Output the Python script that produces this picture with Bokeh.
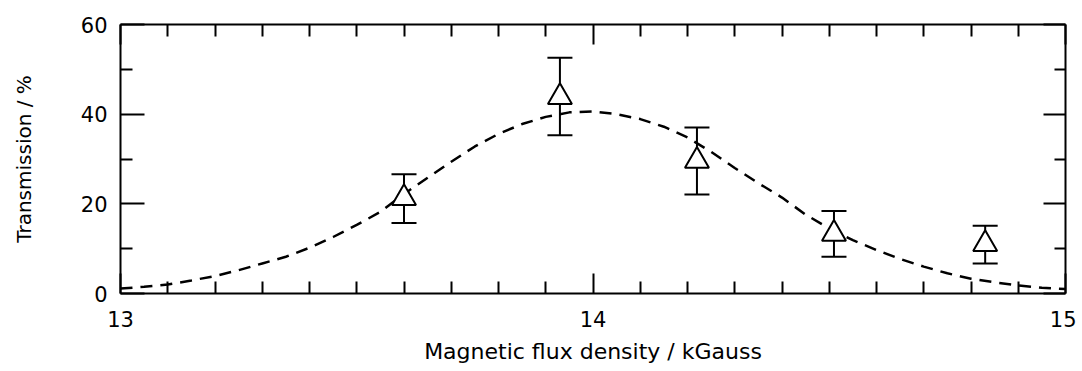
from bokeh.plotting import figure
from bokeh.models import Range1d, LinearAxis, FixedTicker, Whisker, TeeHead, ColumnDataSource
from bokeh.embed import file_html
from bokeh.resources import INLINE

# Measured data points (triangles with error bars)
field_kg = [13.60, 13.93, 14.22, 14.51, 14.83]
transmission = [21.3, 43.8, 29.6, 13.3, 11.0]
err_upper = [26.6, 52.6, 37.0, 18.4, 15.1]
err_lower = [15.7, 35.3, 22.1, 8.2, 6.7]

# Fitted curve (dashed)
curve_x = [13.00, 13.05, 13.10, 13.15, 13.20, 13.25, 13.30, 13.35, 13.40, 13.45,
           13.50, 13.55, 13.60, 13.65, 13.70, 13.75, 13.80, 13.85, 13.90, 13.95,
           14.00, 14.05, 14.10, 14.15, 14.20, 14.25, 14.30, 14.35, 14.40, 14.45,
           14.50, 14.55, 14.60, 14.65, 14.70, 14.75, 14.80, 14.85, 14.90, 14.95, 15.00]
curve_y = [1.1, 1.5, 2.0, 2.9, 3.9, 5.2, 6.7, 8.2, 10.2, 12.6,
           15.3, 18.2, 22.2, 25.8, 29.4, 32.8, 35.6, 37.8, 39.4, 40.4,
           40.6, 40.0, 38.9, 37.2, 34.8, 31.6, 28.0, 24.6, 21.4, 17.6,
           14.5, 11.9, 9.7, 7.7, 6.0, 4.5, 3.3, 2.5, 1.8, 1.3, 1.0]

x_major = [13, 14, 15]
y_major = [0, 20, 40, 60]
y_minor = [10, 30, 50]
x_minor = [13.1, 13.2, 13.3, 13.4, 13.5, 13.6, 13.7, 13.8, 13.9,
           14.1, 14.2, 14.3, 14.4, 14.5, 14.6, 14.7, 14.8, 14.9]

FONT = "DejaVu Sans"

p = figure(width=1076, height=366, output_backend="svg", toolbar_location=None,
           x_range=Range1d(13, 15), y_range=Range1d(0, 60),
           min_border_left=120, min_border_right=11, min_border_top=24, min_border_bottom=73,
           background_fill_color="white", border_fill_color="white")
p.outline_line_color = None
p.grid.visible = False

def style_axis(ax, major_in, minor_in, labels=True):
    ax.axis_line_color = "black"
    ax.axis_line_width = 2
    ax.major_tick_line_color = "black"
    ax.major_tick_line_width = 2
    ax.minor_tick_line_color = "black"
    ax.minor_tick_line_width = 2
    ax.major_tick_in = major_in
    ax.major_tick_out = 0
    ax.minor_tick_in = minor_in
    ax.minor_tick_out = 0
    if labels:
        ax.major_label_text_font = FONT
        ax.major_label_text_font_size = "21px"
        ax.major_label_text_color = "black"
        ax.axis_label_text_font = FONT
        ax.axis_label_text_font_style = "normal"
        ax.axis_label_text_color = "black"
    else:
        ax.major_label_text_font_size = "0px"
        ax.major_label_text_alpha = 0
        ax.major_label_standoff = 0

xt = FixedTicker(ticks=x_major, minor_ticks=x_minor)
yt = FixedTicker(ticks=y_major, minor_ticks=y_minor)

xa = p.xaxis[0]
xa.ticker = xt
style_axis(xa, 20, 12)
xa.axis_label = "Magnetic flux density / kGauss"
xa.axis_label_text_font_size = "22px"
xa.major_label_standoff = 17
xa.axis_label_standoff = 9

ya = p.yaxis[0]
ya.ticker = yt
style_axis(ya, 24, 12)
ya.axis_label = "Transmission / %"
ya.axis_label_text_font_size = "20px"
ya.major_label_standoff = 13
ya.major_label_orientation = "horizontal"
ya.axis_label_standoff = 42

top = LinearAxis(ticker=FixedTicker(ticks=x_major, minor_ticks=x_minor))
style_axis(top, 20, 12, labels=False)
p.add_layout(top, "above")

right = LinearAxis(ticker=FixedTicker(ticks=y_major, minor_ticks=y_minor))
style_axis(right, 22, 11, labels=False)
p.add_layout(right, "right")

# Fitted curve
p.line(curve_x, curve_y, line_color="black", line_width=2.5, line_dash="12 8")

# Error bars
src = ColumnDataSource(dict(x=field_kg, y=transmission, upper=err_upper, lower=err_lower))
wh = Whisker(source=src, base="x", upper="upper", lower="lower", dimension="height",
             line_color="black", line_width=2,
             upper_head=TeeHead(size=25, line_color="black", line_width=2),
             lower_head=TeeHead(size=25, line_color="black", line_width=2))
p.add_layout(wh)

# Triangles
p.scatter("x", "y", source=src, marker="triangle", size=24,
          fill_color="white", line_color="black", line_width=2)

open("out.html", "w").write(file_html(p, INLINE))
